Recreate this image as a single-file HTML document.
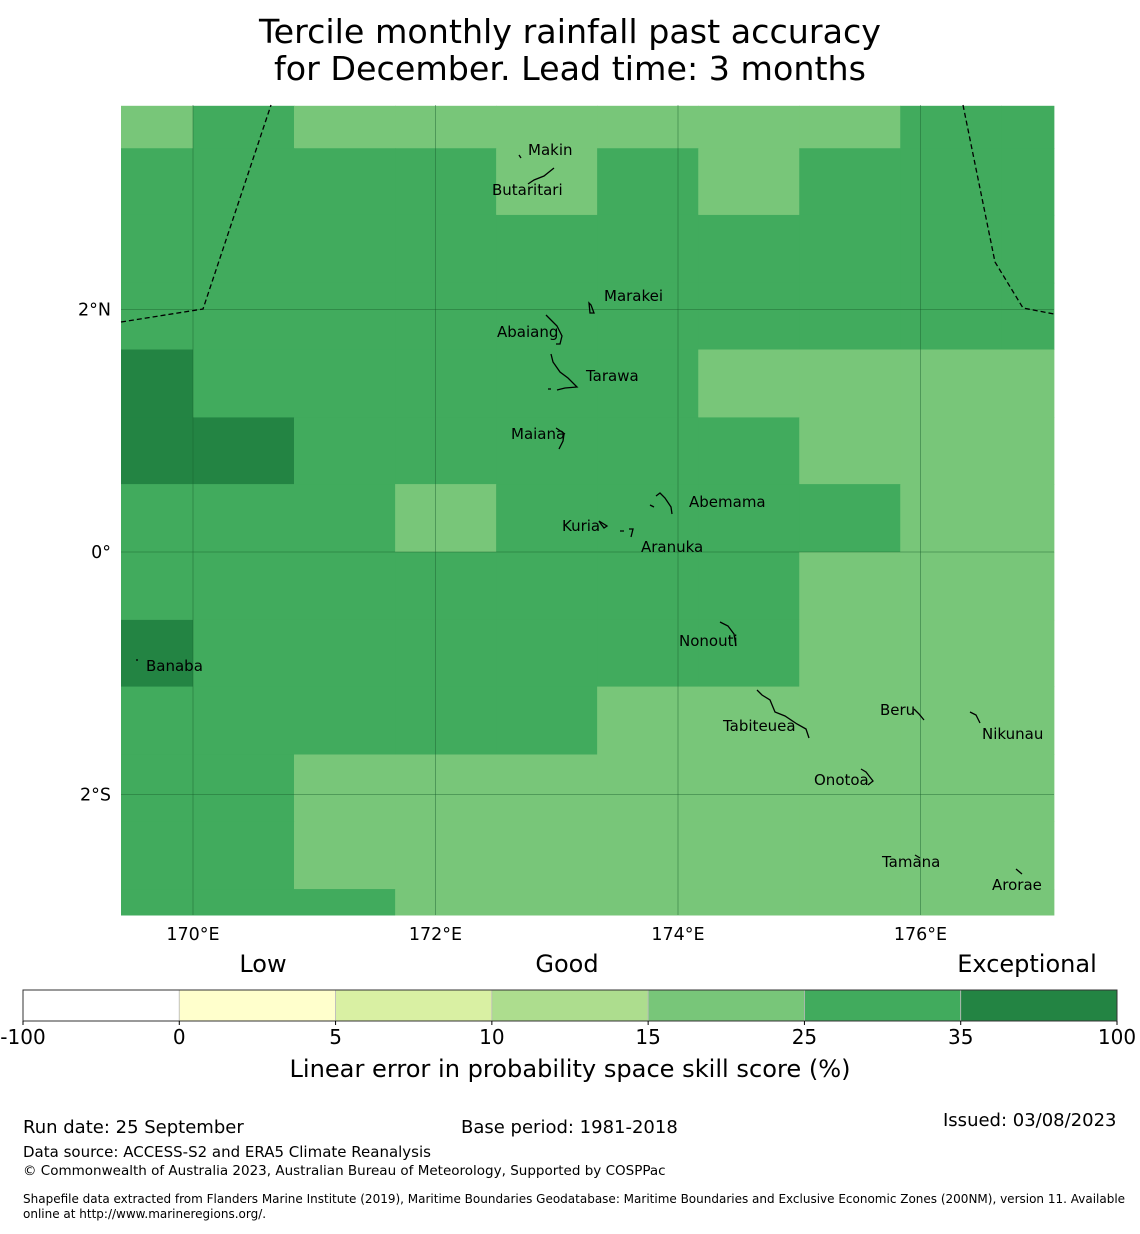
<!DOCTYPE html>
<html><head><meta charset="utf-8"><style>
body{margin:0;background:#fff;font-family:"DejaVu Sans","Liberation Sans",sans-serif;}
svg text{font-family:"DejaVu Sans","Liberation Sans",sans-serif;}
</style></head><body>
<svg id="chart" width="1140" height="1230" xmlns="http://www.w3.org/2000/svg">
<text x="570" y="43" font-size="33.3" text-anchor="middle">Tercile monthly rainfall past accuracy</text>
<text x="570" y="80" font-size="33.3" text-anchor="middle">for December. Lead time: 3 months</text>
<g id="cells"></g>
<g id="grid"></g>
<polyline points="121,322 203,309 271,105" fill="none" stroke="#000" stroke-width="1.3" stroke-dasharray="5,3"/>
<polyline points="963,105 995,262 1023,308 1054,314" fill="none" stroke="#000" stroke-width="1.3" stroke-dasharray="5,3"/>
<g id="islands" fill="none" stroke="#000" stroke-width="1.3">
<path d="M519,155 L521,158 M528,184 L534,180 L544,176 L554,168"/>
<path d="M589,303 L591,305 L594,313 L590,313 Z"/>
<path d="M546,315 L557,326 L562,336 L560,344 L556,344"/>
<path d="M551,354 L553,362 L560,372 L568,378 L577,387 L565,388 L557,390 M548,389 L551,389"/>
<path d="M564,434 L563,441 L559,449 M556,428 L565,434"/>
<path d="M650,505 L654,507 M656,496 L660,493 L665,498 L671,507 L672,514"/>
<path d="M599,521 L601,524 L604,528 L607,526 Z M620,531 L624,531 M629,529 L633,529 L631,537"/>
<path d="M720,622 L728,626 L734,634 L736,646"/>
<path d="M136,660 L138,660"/>
<path d="M757,690 L762,695 L770,700 L775,712 L785,716 L797,724 L806,729 L809,738"/>
<path d="M914,709 L919,714 L924,720"/>
<path d="M970,712 L976,715 L980,723"/>
<path d="M861,769 L866,772 L873,781 L868,785"/>
<path d="M915,855 L920,858"/>
<path d="M1016,869 L1022,874"/>
</g>
<g font-size="15" fill="#000">
<text x="528" y="155">Makin</text>
<text x="492" y="195">Butaritari</text>
<text x="604" y="301">Marakei</text>
<text x="497" y="337">Abaiang</text>
<text x="586" y="381">Tarawa</text>
<text x="511" y="439">Maiana</text>
<text x="689" y="507">Abemama</text>
<text x="562" y="531">Kuria</text>
<text x="641" y="552">Aranuka</text>
<text x="679" y="646">Nonouti</text>
<text x="146" y="671">Banaba</text>
<text x="880" y="715">Beru</text>
<text x="723" y="731">Tabiteuea</text>
<text x="982" y="739">Nikunau</text>
<text x="814" y="785">Onotoa</text>
<text x="882" y="867">Tamana</text>
<text x="992" y="890">Arorae</text>
</g>
<g id="axes" font-size="17.5"></g>
<g id="cbar"></g>
<text x="263" y="972" font-size="24" text-anchor="middle">Low</text>
<text x="567" y="972" font-size="24" text-anchor="middle">Good</text>
<text x="1027" y="972" font-size="24" text-anchor="middle">Exceptional</text>
<text x="570" y="1077" font-size="24.1" text-anchor="middle">Linear error in probability space skill score (%)</text>
<text x="23" y="1133" font-size="18">Run date: 25 September</text>
<text x="461" y="1133" font-size="18">Base period: 1981-2018</text>
<text x="943" y="1126" font-size="18">Issued: 03/08/2023</text>
<text x="23" y="1157" font-size="15">Data source: ACCESS-S2 and ERA5 Climate Reanalysis</text>
<text x="23" y="1175" font-size="13.5">© Commonwealth of Australia 2023, Australian Bureau of Meteorology, Supported by COSPPac</text>
<text x="23" y="1203" font-size="12">Shapefile data extracted from Flanders Marine Institute (2019), Maritime Boundaries Geodatabase: Maritime Boundaries and Exclusive Economic Zones (200NM), version 11. Available</text>
<text x="23" y="1218" font-size="12">online at http://www.marineregions.org/.</text>
</svg>
<script>
// skill class per cell: 1 = 15-25, 2 = 25-35, 3 = 35-100 (rows top->bottom, cols left->right)
const gridRows = [
 [1,2,1,1,1,1,1,1,2,2],
 [2,2,2,2,1,2,1,2,2,2],
 [2,2,2,2,2,2,2,2,2,2],
 [2,2,2,2,2,2,2,2,2,2],
 [3,2,2,2,2,2,1,1,1,1],
 [3,3,2,2,2,2,2,1,1,1],
 [2,2,2,1,2,2,2,2,1,1],
 [2,2,2,2,2,2,2,1,1,1],
 [3,2,2,2,2,2,2,1,1,1],
 [2,2,2,2,2,1,1,1,1,1],
 [2,2,1,1,1,1,1,1,1,1],
 [2,2,1,1,1,1,1,1,1,1],
 [2,2,2,1,1,1,1,1,1,1]
];
const colEdgesLon = [169.4,170.0,170.833,171.667,172.5,173.333,174.167,175.0,175.833,176.667,177.1];
const rowEdgesLat = [3.68,3.33,2.78,2.22,1.67,1.11,0.56,0.0,-0.56,-1.11,-1.67,-2.22,-2.78,-3.0];
const lonTicks = [170,172,174,176];
const latTicks = [2,0,-2];
const latTickLabels = ["2°N","0°","2°S"];
const cbarBounds = ["-100","0","5","10","15","25","35","100"];
const cbarColors = ["#ffffff","#ffffcc","#d9f0a3","#addd8e","#78c679","#41ab5d","#238443"];
const classColors = {1:"#78c679",2:"#41ab5d",3:"#238443"};

const X0=121,X1=1054,Y0=105,Y1=915;
const xLon = lon => Math.min(X1,Math.max(X0,193+(lon-170)*121.25));
const yLat = lat => Math.min(Y1,Math.max(Y0,552-lat*121.25));
const NS="http://www.w3.org/2000/svg";
function mk(tag,attrs,parent){const e=document.createElementNS(NS,tag);for(const k in attrs)e.setAttribute(k,attrs[k]);parent.appendChild(e);return e;}

const cells=document.getElementById('cells');
gridRows.forEach((row,r)=>row.forEach((v,c)=>{
  const x=xLon(colEdgesLon[c]),x2=xLon(colEdgesLon[c+1]),y=yLat(rowEdgesLat[r]),y2=yLat(rowEdgesLat[r+1]);
  const el=mk('rect',{x:x,y:y,width:x2-x+0.5,height:y2-y+0.5,fill:classColors[v]},cells);
  
  
}));

const grid=document.getElementById('grid'),axes=document.getElementById('axes');
lonTicks.forEach(l=>{
  const x=xLon(l);
  const g=mk('line',{x1:x,y1:Y0,x2:x,y2:Y1,stroke:'#1a5e2e','stroke-opacity':0.55,'stroke-width':0.8},grid);
  
  
  const t=mk('text',{x:x,y:940,'text-anchor':'middle'},axes);t.textContent=l+'°E';
  
  
});
latTicks.forEach((l,i)=>{
  const y=yLat(l);
  const g=mk('line',{x1:X0,y1:y,x2:X1,y2:y,stroke:'#1a5e2e','stroke-opacity':0.55,'stroke-width':0.8},grid);
  
  
  const t=mk('text',{x:111,y:y+6,'text-anchor':'end'},axes);t.textContent=latTickLabels[i];
  
  
});

const cb=document.getElementById('cbar');
const CX0=23,CX1=1117,CY=990,CH=31,sw=(CX1-CX0)/cbarColors.length;
cbarColors.forEach((col,i)=>{
  const r=mk('rect',{x:CX0+i*sw,y:CY,width:sw,height:CH,fill:col,stroke:'#bbb','stroke-width':0.8},cb);
  
  
});
const fr=mk('rect',{x:CX0,y:CY,width:CX1-CX0,height:CH,fill:'none',stroke:'#333','stroke-width':1},cb);


cbarBounds.forEach((b,i)=>{
  const x=CX0+i*sw;
  mk('line',{x1:x,y1:CY+CH,x2:x,y2:CY+CH+4,stroke:'#000'},cb);
  const t=mk('text',{x:x,y:1044,'text-anchor':'middle','font-size':20},cb);t.textContent=b;
  
  
});
</script>
</body></html>
